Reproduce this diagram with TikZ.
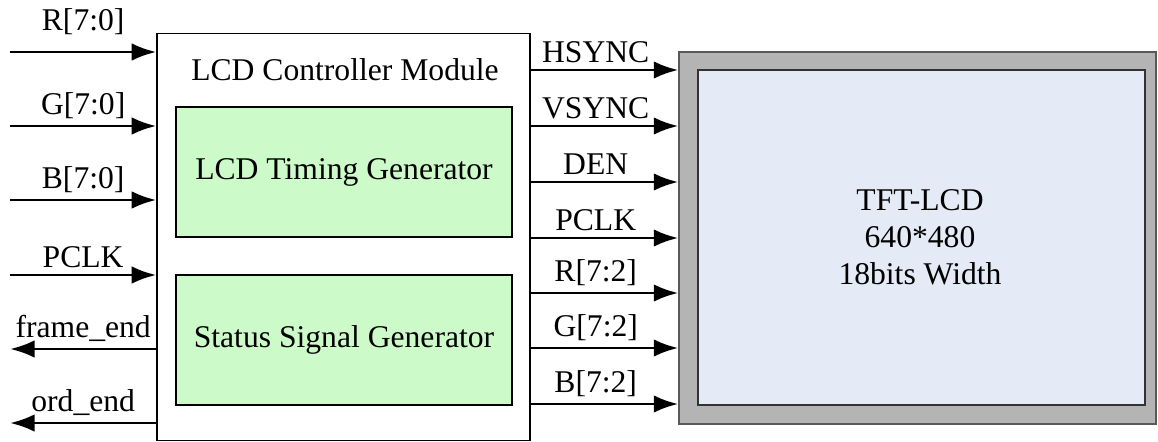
\documentclass[tikz,border=0pt]{standalone}
\usepackage{fontspec}
\setmainfont{Liberation Serif}
\usetikzlibrary{arrows.meta}
\definecolor{genfill}{RGB}{204,250,200}
\definecolor{lcdfill}{RGB}{228,235,247}
\definecolor{framefill}{RGB}{180,180,180}
\begin{document}
\begin{tikzpicture}[x=0.02cm,y=-0.02cm,font=\fontsize{18}{21}\selectfont,
        sig/.style={line width=1.7pt,-{Latex[length=14pt,width=10pt]}},
        genbox/.style={draw,thick,fill=genfill,minimum width=6.72cm,minimum height=2.6cm}]
                \useasboundingbox (0,0) rectangle (1158,442);
                % controller block
                \node[draw,thick,minimum width=7.46cm,minimum height=8.14cm] (ctrl) at (343.5,237) {};
                \node (title) at (345,70) {LCD Controller Module};
                \node[genbox] (timing) at (344,172) {LCD Timing Generator};
                \node[genbox] (status) at (344,340) {Status Signal Generator};
                % panel
                \node[draw=gray!70!black,thick,fill=framefill,minimum width=9.54cm,minimum height=7.44cm] (tft) at (917.5,238) {};
                \node[draw=black!80,thick,fill=lcdfill,minimum width=8.94cm,minimum height=6.7cm] (lcd) at (921.5,237.5) {};
                \node[align=center] (lcdtext) at (920,237) {TFT-LCD\\640*480\\18bits Width};
                % inputs
                \foreach \y/\txt/\dy in {52/{R[7:0]}/5.7, 126/{G[7:0]}/0, 200/{B[7:0]}/0, 275/{PCLK}/0} {
                    \coordinate (in\y) at (10,\y);
                    \draw[sig] (in\y) -- (in\y -| ctrl.west) node[midway,above,yshift=\dy pt] {\txt};
                }
                % status outputs
                \foreach \y/\txt in {349/{frame\_end}, 423/{ord\_end}} {
                    \coordinate (out\y) at (10,\y);
                    \draw[sig] (out\y -| ctrl.west) -- (out\y) node[midway,above] {\txt};
                }
                % panel signals
                \foreach \y/\txt in {70/HSYNC, 126/VSYNC, 182/DEN, 238/PCLK, 293/{R[7:2]}, 348/{G[7:2]}, 404/{B[7:2]}} {
                    \coordinate (p\y) at (600,\y);
                    \draw[sig] (p\y -| ctrl.east) -- (p\y -| tft.west) node[midway,above,xshift=-5pt] {\txt};
                }
            \end{tikzpicture}
\end{document}
